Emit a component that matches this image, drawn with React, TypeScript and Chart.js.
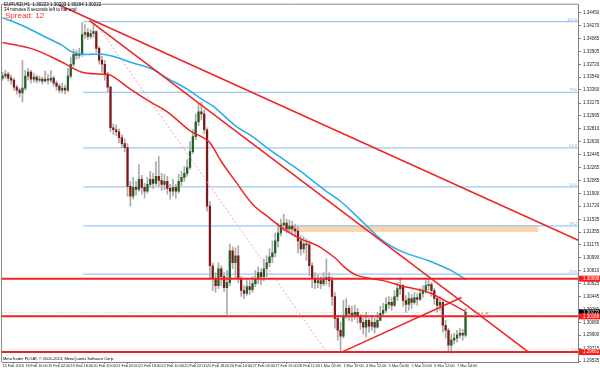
import React, { useEffect, useRef } from "react";
import { Chart, registerables } from "chart.js";
Chart.register(...registerables);

const symbolTitle = "EURUSD,H1  1.30223 1.30233 1.30204 1.30222";
const timerText = "34 minutes 8 seconds left to bar end";
const spreadText = "Spread: 12";
const copyrightText = "MetaTrader FLOAT, \u00A9 2001-2013, MetaQuotes Software Corp.";
const levelNote = "224.8";

const timeLabels = [
  "15 Feb 2013", "18 Feb 10:00", "19 Feb 02:00", "19 Feb 18:00", "20 Feb 10:00",
  "21 Feb 02:00", "21 Feb 18:00", "22 Feb 10:00", "25 Feb 02:00", "25 Feb 18:00",
  "26 Feb 10:00", "27 Feb 03:00", "27 Feb 19:00", "28 Feb 11:00", "1 Mar 03:00",
  "1 Mar 19:00", "4 Mar 12:00", "5 Mar 04:00", "5 Mar 20:00", "6 Mar 12:00", "7 Mar 04:00",
];
const timeLabelStep = 8;

const priceTicks = [
  1.3445, 1.3427, 1.34085, 1.33905, 1.3372, 1.3354, 1.3336, 1.33175, 1.32995, 1.3281,
  1.3263, 1.32445, 1.32265, 1.32085, 1.319, 1.3172, 1.31535, 1.31355, 1.31175, 1.3099,
  1.3081, 1.30625, 1.30445, 1.3026, 1.3008, 1.299, 1.29715, 1.29535,
];
const priceMax = 1.34562;
const priceMin = 1.29522;

const firstOpen = 1.33526;
const closes = [
  1.33554, 1.33582, 1.33526, 1.33498, 1.334, 1.33358, 1.33316, 1.33386, 1.33554, 1.3361,
  1.33512, 1.3354, 1.33498, 1.33512, 1.33484, 1.33512, 1.33498, 1.33526, 1.33456, 1.33414,
  1.33358, 1.33386, 1.33358, 1.33554, 1.33722, 1.33862, 1.33848, 1.33876, 1.34142, 1.3417,
  1.34114, 1.34156, 1.34184, 1.33946, 1.33778, 1.33722, 1.33582, 1.334, 1.32826, 1.32798,
  1.3277, 1.32686, 1.32602, 1.32546, 1.32, 1.3186, 1.31986, 1.31958, 1.32098, 1.31986,
  1.3193, 1.32028, 1.32098, 1.32042, 1.3214, 1.32084, 1.32028, 1.3207, 1.31972, 1.3193,
  1.31986, 1.3193, 1.3207, 1.32126, 1.32182, 1.32266, 1.3249, 1.327, 1.3291, 1.3305,
  1.33022, 1.32798, 1.3172, 1.3088, 1.30698, 1.306, 1.30838, 1.30726, 1.30572, 1.30642,
  1.3109, 1.30922, 1.3102, 1.30698, 1.3053, 1.30488, 1.30586, 1.30544, 1.30628, 1.30698,
  1.30782, 1.30726, 1.30838, 1.30922, 1.31006, 1.31062, 1.3123, 1.31342, 1.31454, 1.31482,
  1.31398, 1.3144, 1.31398, 1.3137, 1.3123, 1.31118, 1.31188, 1.31174, 1.3088, 1.30698,
  1.30642, 1.3067, 1.30628, 1.30684, 1.30712, 1.3067, 1.30446, 1.30138, 1.2997, 1.29886,
  1.3018, 1.30278, 1.30208, 1.3018, 1.30222, 1.30166, 1.30082, 1.30012, 1.3011, 1.30026,
  1.30082, 1.30012, 1.3011, 1.30208, 1.3025, 1.30334, 1.30362, 1.3032, 1.30446, 1.30558,
  1.306, 1.3039, 1.30334, 1.30418, 1.30362, 1.30432, 1.30404, 1.30488, 1.3053, 1.306,
  1.30614, 1.3053, 1.30418, 1.3032, 1.30362, 1.3004, 1.2997, 1.2976, 1.2983, 1.29858,
  1.299, 1.29928, 1.299, 1.30222,
];
const highs = [
  1.3361, 1.33638, 1.3361, 1.33568, 1.33526, 1.33428, 1.33386, 1.33778, 1.33638, 1.33666,
  1.33638, 1.33596, 1.33568, 1.33554, 1.3354, 1.33624, 1.33582, 1.33638, 1.33554, 1.33484,
  1.33442, 1.33456, 1.33428, 1.33666, 1.3382, 1.33932, 1.33918, 1.33946, 1.3431, 1.34282,
  1.34226, 1.34212, 1.3431, 1.34198, 1.33974, 1.33834, 1.33778, 1.3361, 1.33414, 1.32882,
  1.32868, 1.32812, 1.32728, 1.32672, 1.32602, 1.3207, 1.32126, 1.3207, 1.32308, 1.32154,
  1.32042, 1.32126, 1.3221, 1.32182, 1.3235, 1.3242, 1.32182, 1.32168, 1.3214, 1.32028,
  1.32098, 1.32028, 1.32168, 1.3221, 1.3228, 1.32378, 1.3263, 1.32798, 1.33022, 1.33162,
  1.3319, 1.33078, 1.32826, 1.3179, 1.30922, 1.30782, 1.30922, 1.3088, 1.30782, 1.3081,
  1.31188, 1.31146, 1.31132, 1.3116, 1.30726, 1.306, 1.3067, 1.3067, 1.30726, 1.3081,
  1.30866, 1.30838, 1.30978, 1.3102, 1.31118, 1.3123, 1.31342, 1.31482, 1.31538, 1.31608,
  1.31538, 1.31524, 1.3151, 1.31468, 1.31426, 1.313, 1.31286, 1.31258, 1.3123, 1.30922,
  1.30782, 1.30754, 1.30726, 1.30782, 1.30978, 1.30782, 1.30726, 1.30502, 1.3018, 1.30082,
  1.3039, 1.30418, 1.3032, 1.30306, 1.3032, 1.30278, 1.30194, 1.30138, 1.30222, 1.30138,
  1.3018, 1.30138, 1.30222, 1.30306, 1.30348, 1.30432, 1.30446, 1.30432, 1.3053, 1.30642,
  1.30712, 1.30614, 1.3046, 1.30502, 1.30474, 1.30502, 1.30488, 1.30558, 1.306, 1.3067,
  1.30684, 1.30642, 1.30558, 1.30446, 1.30446, 1.3039, 1.3011, 1.29998, 1.29914, 1.29928,
  1.2997, 1.29998, 1.29984, 1.30278,
];
const lows = [
  1.33498, 1.33526, 1.33484, 1.33442, 1.33358, 1.33302, 1.3326, 1.3319, 1.33358, 1.33498,
  1.33456, 1.3347, 1.33456, 1.3347, 1.33442, 1.3347, 1.33442, 1.3347, 1.33414, 1.33358,
  1.33316, 1.33316, 1.33302, 1.3333, 1.33526, 1.33694, 1.33792, 1.33806, 1.33834, 1.34086,
  1.34072, 1.34086, 1.341, 1.3389, 1.33722, 1.3361, 1.33498, 1.3333, 1.3277, 1.32728,
  1.32714, 1.32616, 1.32546, 1.3249, 1.3186, 1.3172, 1.31818, 1.31874, 1.3193, 1.31888,
  1.31832, 1.31902, 1.31986, 1.31972, 1.32014, 1.32, 1.31944, 1.31958, 1.31888, 1.31818,
  1.3186, 1.31832, 1.31902, 1.32014, 1.3207, 1.3214, 1.32238, 1.32462, 1.32658, 1.32854,
  1.32938, 1.32742, 1.3165, 1.30698, 1.3053, 1.30502, 1.30558, 1.306, 1.30516, 1.30194,
  1.306, 1.30838, 1.30698, 1.30642, 1.30446, 1.30418, 1.3046, 1.30474, 1.30502, 1.30586,
  1.30628, 1.30614, 1.3067, 1.30726, 1.30866, 1.30922, 1.31006, 1.31146, 1.313, 1.3137,
  1.31342, 1.31356, 1.31328, 1.31286, 1.31062, 1.31034, 1.31062, 1.3095, 1.3074, 1.30572,
  1.30558, 1.30572, 1.30558, 1.306, 1.30614, 1.30586, 1.3032, 1.29998, 1.2983, 1.29676,
  1.29858, 1.30138, 1.3011, 1.30096, 1.30124, 1.30068, 1.29984, 1.29914, 1.29872, 1.29942,
  1.2997, 1.29928, 1.29998, 1.3011, 1.30166, 1.30222, 1.30278, 1.3025, 1.30306, 1.3039,
  1.30474, 1.30306, 1.30222, 1.3025, 1.30278, 1.30334, 1.3032, 1.3039, 1.30432, 1.30488,
  1.3053, 1.30446, 1.30334, 1.30222, 1.3025, 1.29942, 1.29858, 1.29662, 1.29648, 1.29774,
  1.29802, 1.29858, 1.2983, 1.29872,
];

const maBlueIdx = [0, 7, 14, 21, 24, 28, 35, 40, 45, 52, 58, 65, 70, 74, 82, 88, 94, 100, 105, 109, 114, 119, 125, 129, 133, 140, 150, 158, 163];
const maBlue = [1.3438, 1.34268, 1.34128, 1.33988, 1.33904, 1.33862, 1.33862, 1.3382, 1.3375, 1.33666, 1.33526, 1.33372, 1.33232, 1.33134, 1.32854, 1.327, 1.32518, 1.3235, 1.3221, 1.32084, 1.3193, 1.3179, 1.31566, 1.31412, 1.31258, 1.3109, 1.3095, 1.3081, 1.30684];
const maRedIdx = [0, 11, 21, 28, 35, 38, 45, 52, 58, 66, 70, 73, 77, 82, 88, 94, 99, 105, 111, 117, 121, 125, 134, 140, 150, 157, 163];
const maRed = [1.3403, 1.33932, 1.3375, 1.3361, 1.33582, 1.33568, 1.33372, 1.3319, 1.3305, 1.32784, 1.327, 1.32616, 1.3235, 1.3207, 1.31748, 1.31552, 1.31398, 1.31258, 1.3116, 1.30992, 1.30838, 1.3074, 1.3067, 1.306, 1.30502, 1.30362, 1.30236];

const trendAIdx = [19.7, 203.2];
const trendAPrice = [1.34562, 1.3123];
const trendBIdx = [30.6, 185.2];
const trendBPrice = [1.34338, 1.29662];
const supportIdx = [119.4, 161.6];
const supportPrice = [1.29662, 1.30432];
const fibDiagIdx = [32.4, 114.1];
const fibDiagPrice = [1.34324, 1.29662];

const hLevels = [1.30698, 1.30166, 1.29662];
const bidPrice = 1.30222;
const fibHigh = 1.34324;
const fibLow = 1.29662;
const fibStartIdx = 28.4;
const fibLevels = [100, 78.6, 61.8, 50, 38.2, 23.6, 0];
const zoneIdx = [99.3, 188.7];
const zoneTop = 1.31454;
const zoneBottom = 1.31356;

const X_MIN = -0.2;
const X_MAX = 202.6;
const X_END = 206;
const FONT = '"Liberation Sans", Arial, sans-serif';

export default function App() {
  const ref = useRef<HTMLCanvasElement>(null);
  useEffect(() => {
    document.body.style.margin = "0";
    const canvas = ref.current;
    if (!canvas) return;
    const opens = closes.map((_, i) => (i === 0 ? firstOpen : closes[i - 1]));
    const wicks = closes.map((_, i) => ({ x: i, y: [lows[i], highs[i]] }));
    const bull: any[] = [];
    const bear: any[] = [];
    closes.forEach((c, i) => {
      const o = opens[i];
      (c >= o ? bull : bear).push({ x: i, y: [o, c] });
    });
    const pts = (idx: number[], vals: number[]) => idx.map((x, i) => ({ x, y: vals[i] }));
    const line = (data: any[], color: string, width: number, order: number, extra: any = {}) => ({
      type: "line",
      data,
      borderColor: color,
      backgroundColor: color,
      borderWidth: width,
      pointRadius: 0,
      fill: false,
      tension: 0,
      order,
      ...extra,
    });

    const fibDatasets = fibLevels.map((lv) => {
      const p = fibLow + ((fibHigh - fibLow) * lv) / 100;
      return line([{ x: fibStartIdx, y: p }, { x: X_END, y: p }], "#9ccaf2", 1.2, 9);
    });

    const datasets: any[] = [
      line([{ x: zoneIdx[0], y: zoneTop }, { x: zoneIdx[1], y: zoneTop }], "rgba(250,206,160,0.9)", 0, 10),
      line([{ x: zoneIdx[0], y: zoneBottom }, { x: zoneIdx[1], y: zoneBottom }], "rgba(250,206,160,0.9)", 0, 10, {
        fill: "-1",
        backgroundColor: "rgba(250,210,166,0.9)",
      }),
      ...fibDatasets,
      line([{ x: X_MIN - 1, y: bidPrice }, { x: X_END, y: bidPrice }], "#c4c4c4", 1, 9, { borderDash: [1, 2] }),
      {
        type: "bar",
        data: wicks,
        backgroundColor: "#ababab",
        barThickness: 1,
        grouped: false,
        order: 8,
      },
      {
        type: "bar",
        data: bull,
        backgroundColor: "#235f23",
        barThickness: 1.6,
        minBarLength: 1,
        grouped: false,
        order: 7,
      },
      {
        type: "bar",
        data: bear,
        backgroundColor: "#801818",
        barThickness: 1.6,
        minBarLength: 1,
        grouped: false,
        order: 7,
      },
      line(pts(fibDiagIdx, fibDiagPrice), "#f5a3a3", 1, 6, { borderDash: [2, 2] }),
      line(pts(maBlueIdx, maBlue), "#25aeea", 1.5, 5, { tension: 0.35 }),
      line(pts(maRedIdx, maRed), "#f02323", 1.5, 5, { tension: 0.35 }),
      ...hLevels.map((p) => line([{ x: X_MIN - 1, y: p }, { x: X_END, y: p }], "#f02323", 2, 4)),
      line(pts(trendAIdx, trendAPrice), "#f02323", 1.5, 3),
      line(pts(trendBIdx, trendBPrice), "#f02323", 1.5, 3),
      line(pts(supportIdx, supportPrice), "#f02323", 1.5, 3),
    ];

    const overlay = {
      id: "overlay",
      afterDraw(chart: any) {
        const { ctx, chartArea: a, scales } = chart;
        const ys = scales.y;
        const xs = scales.x;
        ctx.save();
        ctx.strokeStyle = "#8a8a8a";
        ctx.lineWidth = 1;
        ctx.beginPath();
        ctx.moveTo(a.left - 0.5, a.bottom);
        ctx.lineTo(a.left - 0.5, a.top - 0.5);
        ctx.lineTo(a.right, a.top - 0.5);
        ctx.stroke();

        ctx.textBaseline = "alphabetic";
        ctx.textAlign = "right";
        ctx.font = `4px ${FONT}`;
        ctx.fillStyle = "#7fb2e6";
        fibLevels.forEach((lv) => {
          const p = fibLow + ((fibHigh - fibLow) * lv) / 100;
          ctx.fillText(lv.toFixed(1), a.right - 1, ys.getPixelForValue(p) - 1);
        });

        ctx.textAlign = "left";
        ctx.font = `6px ${FONT}`;
        ctx.fillStyle = "#f07a7a";
        ctx.fillText(levelNote, xs.getPixelForValue(closes.length - 1) + 8, ys.getPixelForValue(hLevels[1]) - 0.5);

        ctx.textBaseline = "middle";
        ctx.font = `4.5px ${FONT}`;
        const box = (p: number, bg: string) => {
          const py = ys.getPixelForValue(p);
          ctx.fillStyle = bg;
          ctx.fillRect(a.right + 1, py - 3, 22, 6);
          ctx.fillStyle = "#ffffff";
          ctx.fillText(p.toFixed(5), a.right + 5, py);
        };
        box(bidPrice, "#000000");
        hLevels.forEach((p) => box(p, "#ff1a1a"));

        ctx.textBaseline = "top";
        ctx.fillStyle = "#000000";
        ctx.font = `4.5px ${FONT}`;
        ctx.fillText(symbolTitle, 4, 3);
        ctx.fillText(timerText, 4, 8);
        ctx.font = `4px ${FONT}`;
        ctx.fillText(copyrightText, 3, 357);
        ctx.fillStyle = "#ff2a2a";
        ctx.font = `8px ${FONT}`;
        ctx.fillText(spreadText, 5, 12);
        ctx.restore();
      },
    };

    const chart = new Chart(canvas, {
      type: "bar",
      data: { datasets },
      options: {
        animation: false,
        responsive: false,
        maintainAspectRatio: false,
        layout: { padding: { left: 2, top: 2, right: 0, bottom: 0 } },
        plugins: { legend: { display: false }, tooltip: { enabled: false } },
        scales: {
          x: {
            type: "linear",
            min: X_MIN,
            max: X_MAX,
            offset: false,
            afterBuildTicks: (s: any) => {
              s.ticks = timeLabels.map((_, i) => ({ value: i * timeLabelStep }));
            },
            afterFit: (s: any) => {
              s.height = 8;
            },
            ticks: {
              autoSkip: false,
              maxRotation: 0,
              minRotation: 0,
              align: "start",
              padding: 0,
              color: "#222222",
              font: { size: 3.8, family: FONT },
              callback: (_v: any, i: number) => timeLabels[i] ?? "",
            },
            grid: { drawOnChartArea: false, drawTicks: true, tickLength: 2, color: "#808080" },
            border: { display: true, color: "#808080" },
          },
          y: {
            type: "linear",
            position: "right",
            min: priceMin,
            max: priceMax,
            afterBuildTicks: (s: any) => {
              s.ticks = priceTicks.map((v) => ({ value: v }));
            },
            afterFit: (s: any) => {
              s.width = 22;
            },
            ticks: {
              autoSkip: false,
              padding: 2,
              color: "#222222",
              font: { size: 4.5, family: FONT },
              callback: (v: any) => Number(v).toFixed(5),
            },
            grid: { drawOnChartArea: false, drawTicks: true, tickLength: 3, color: "#808080" },
            border: { display: true, color: "#808080" },
          },
        },
      } as any,
      plugins: [overlay],
    } as any);
    return () => chart.destroy();
  }, []);
  return (
    <div style={{ width: 600, height: 370 }}>
      <canvas ref={ref} width={600} height={370} style={{ display: "block", width: 600, height: 370 }} />
    </div>
  );
}
